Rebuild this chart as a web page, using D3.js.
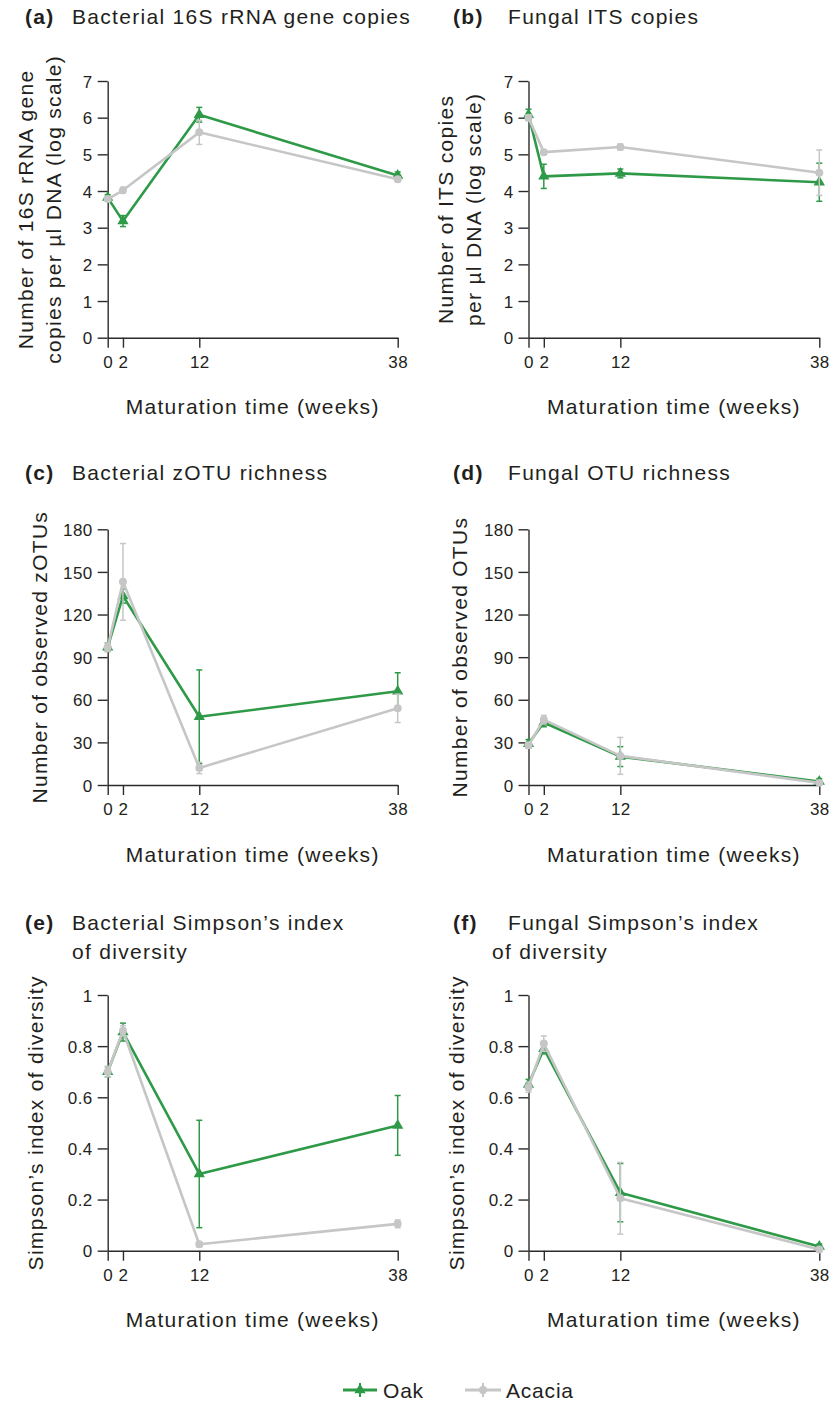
<!DOCTYPE html>
<html><head><meta charset="utf-8">
<script src="https://cdn.jsdelivr.net/npm/d3@7"></script>
<style>
html,body{margin:0;padding:0;background:#fff;}
text{font-family:"Liberation Sans",Arial,sans-serif;fill:#231f20;}
</style></head>
<body>
<svg id="c" width="832" height="1401"></svg>
<script>
const weeks = [0, 2, 12, 38];
const xTickLabels = ["0", "2", "12", "38"];
const seriesNames = ["Oak", "Acacia"];

const bact16S_oak = [3.82, 3.18, 6.08, 4.42];
const bact16S_oak_err = [0.08, 0.15, 0.2, 0.1];
const bact16S_acacia = [3.78, 4.02, 5.6, 4.32];
const bact16S_acacia_err = [0.06, 0.08, 0.33, 0.06];

const its_oak = [6.08, 4.4, 4.48, 4.24];
const its_oak_err = [0.15, 0.33, 0.12, 0.52];
const its_acacia = [6.0, 5.06, 5.2, 4.5];
const its_acacia_err = [0.08, 0.06, 0.08, 0.62];

const zotu_oak = [97, 133, 48, 66];
const zotu_oak_err = [3, 5, 33, 13];
const zotu_acacia = [97, 143, 12, 54];
const zotu_acacia_err = [3, 27, 4, 10];

const otu_oak = [29, 44, 20, 2.5];
const otu_oak_err = [3, 3, 7, 2];
const otu_acacia = [28, 46, 20.5, 1.5];
const otu_acacia_err = [2, 3, 13, 1];

const simpB_oak = [0.70, 0.855, 0.30, 0.49];
const simpB_oak_err = [0.02, 0.035, 0.21, 0.117];
const simpB_acacia = [0.70, 0.86, 0.025, 0.105];
const simpB_acacia_err = [0.02, 0.02, 0.01, 0.015];

const simpF_oak = [0.65, 0.79, 0.227, 0.016];
const simpF_oak_err = [0.02, 0.02, 0.114, 0.01];
const simpF_acacia = [0.64, 0.81, 0.205, 0.005];
const simpF_acacia_err = [0.02, 0.03, 0.14, 0.005];

const ticks7 = [0,1,2,3,4,5,6,7];
const ticks180 = [0,30,60,90,120,150,180];
const ticks1 = [0,0.2,0.4,0.6,0.8,1];
const ticks1Labels = ["0","0.2","0.4","0.6","0.8","1"];

const GREEN = "#2e9a47", GRAY = "#c6c6c6", AXIS = "#2b2b2b";
const svg = d3.select("#c");

const panels = [
  {letter:"(a)", title:["Bacterial 16S rRNA gene copies"], ylab:["Number of 16S rRNA gene","copies per µl DNA (log scale)"],
   oak:bact16S_oak, oakE:bact16S_oak_err, ac:bact16S_acacia, acE:bact16S_acacia_err, max:7, ticks:ticks7, tl:null,
   col:0, row:0},
  {letter:"(b)", title:["Fungal ITS copies"], ylab:["Number of ITS copies","per µl DNA (log scale)"],
   oak:its_oak, oakE:its_oak_err, ac:its_acacia, acE:its_acacia_err, max:7, ticks:ticks7, tl:null,
   col:1, row:0},
  {letter:"(c)", title:["Bacterial zOTU richness"], ylab:["Number of observed zOTUs"],
   oak:zotu_oak, oakE:zotu_oak_err, ac:zotu_acacia, acE:zotu_acacia_err, max:180, ticks:ticks180, tl:null,
   col:0, row:1},
  {letter:"(d)", title:["Fungal OTU richness"], ylab:["Number of observed OTUs"],
   oak:otu_oak, oakE:otu_oak_err, ac:otu_acacia, acE:otu_acacia_err, max:180, ticks:ticks180, tl:null,
   col:1, row:1},
  {letter:"(e)", title:["Bacterial Simpson\u2019s index","of diversity"], ylab:["Simpson\u2019s index of diversity"],
   oak:simpB_oak, oakE:simpB_oak_err, ac:simpB_acacia, acE:simpB_acacia_err, max:1, ticks:ticks1, tl:ticks1Labels,
   col:0, row:2},
  {letter:"(f)", title:["Fungal Simpson\u2019s index","of diversity"], ylab:["Simpson\u2019s index of diversity"],
   oak:simpF_oak, oakE:simpF_oak_err, ac:simpF_acacia, acE:simpF_acacia_err, max:1, ticks:ticks1, tl:ticks1Labels,
   col:1, row:2}
];

// layout geometry
const colX = [[107.7, 397.7],[528.5, 819.3]];
const rowY = [[81, 337.7],[529.3, 785],[995, 1250.7]];
const titleY = [24, 480, 930];
const letterX = [[25, 72, 72],[453, 508, 492]];
const ylabX = [[33, 61],[453, 481]];
const ylab1X = [[47],[467],[43],[464]];
const xlabY = [414, 862, 1327];

const FS = 21, LS = 1.3;

panels.forEach((p,i) => {
  const [x0,x1] = colX[p.col];
  const [yt,yb] = rowY[p.row];
  const x = d3.scaleLinear().domain([0,38]).range([x0,x1]);
  const y = d3.scaleLinear().domain([0,p.max]).range([yb,yt]);
  const g = svg.append("g");

  // axes
  const yAxis = d3.axisLeft(y).tickValues(p.ticks).tickSizeInner(10).tickSizeOuter(0).tickPadding(5)
     .tickFormat((d,k)=> p.tl ? p.tl[k] : d3.format("d")(d));
  const ga = g.append("g").attr("transform",`translate(${x0},0)`).call(yAxis);
  const xAxis = d3.axisBottom(x).tickValues(weeks).tickSizeInner(10).tickSizeOuter(0).tickPadding(8)
     .tickFormat((d,k)=>xTickLabels[k]);
  const gx = g.append("g").attr("transform",`translate(0,${yb})`).call(xAxis);
  [ga,gx].forEach(a=>{
    a.select(".domain").attr("stroke",AXIS).attr("stroke-width",1.4);
    a.selectAll(".tick line").attr("stroke",AXIS).attr("stroke-width",1.4);
    a.selectAll(".tick text").attr("font-size",17).attr("fill","#231f20")
      .style("font-family","'Liberation Sans',Arial,sans-serif").style("letter-spacing","0.4px");
  });
  ga.selectAll(".tick text").attr("dy","0.36em");
  gx.selectAll(".tick text").attr("dy","0.71em");

  // titles
  const t = g.append("text").attr("x", letterX[p.col][0]).attr("y", titleY[p.row])
    .attr("font-size",FS).style("letter-spacing",LS+"px");
  t.append("tspan").attr("font-weight","bold").text(p.letter);
  g.append("text").attr("x", letterX[p.col][1]).attr("y", titleY[p.row])
    .attr("font-size",FS).style("letter-spacing",LS+"px").text(p.title[0]);
  if (p.title[1]) {
    g.append("text").attr("x", letterX[p.col][2]).attr("y", titleY[p.row]+29)
      .attr("font-size",FS).style("letter-spacing",LS+"px").text(p.title[1]);
  }

  // y label
  const cy = (yt+yb)/2;
  p.ylab.forEach((s,k)=>{
    let bx;
    if (p.ylab.length===2) bx = ylabX[p.col][k];
    else bx = p.row===1 ? (p.col===0?47:467) : (p.col===0?43:464);
    g.append("text").attr("transform",`translate(${bx},${cy}) rotate(-90)`)
      .attr("text-anchor","middle").attr("font-size",FS).style("letter-spacing",LS+"px").text(s);
  });

  // x label
  g.append("text").attr("x",(x0+x1)/2 + 0).attr("y",xlabY[p.row]).attr("text-anchor","middle")
    .attr("font-size",FS).style("letter-spacing",LS+"px").text("Maturation time (weeks)");

  // series
  const series = [
    {vals:p.oak, err:p.oakE, color:GREEN, shape:"tri"},
    {vals:p.ac, err:p.acE, color:GRAY, shape:"circ"}
  ];
  series.forEach(s=>{
    const sg = g.append("g");
    const pts = weeks.map((w,k)=>({w, v:s.vals[k], e:s.err[k]}));
    // error bars
    pts.forEach(d=>{
      const ylo = y(Math.max(0,d.v-d.e)), yhi = y(d.v+d.e);
      sg.append("line").attr("x1",x(d.w)).attr("x2",x(d.w)).attr("y1",ylo).attr("y2",yhi)
        .attr("stroke",s.color).attr("stroke-width",1.5);
      [ylo,yhi].forEach(yy=>sg.append("line").attr("x1",x(d.w)-3).attr("x2",x(d.w)+3)
        .attr("y1",yy).attr("y2",yy).attr("stroke",s.color).attr("stroke-width",1.5));
    });
    sg.append("path").datum(pts)
      .attr("d", d3.line().x(d=>x(d.w)).y(d=>y(d.v)))
      .attr("fill","none").attr("stroke",s.color).attr("stroke-width",2.6).attr("stroke-linejoin","round");
    const sym = d3.symbol().type(s.shape==="tri"?d3.symbolTriangle:d3.symbolCircle).size(s.shape==="tri"?55:50);
    sg.selectAll("path.m").data(pts).enter().append("path").attr("class","m")
      .attr("transform",d=>`translate(${x(d.w)},${y(d.v)})`).attr("d",sym).attr("fill",s.color);
  });
});

// legend
const lg = svg.append("g");
const legendItems = [
  {name:seriesNames[0], color:GREEN, shape:"tri", x0:343, x1:377, tx:383},
  {name:seriesNames[1], color:GRAY, shape:"circ", x0:465, x1:501, tx:506}
];
legendItems.forEach(it=>{
  const ly = 1390;
  lg.append("line").attr("x1",it.x0).attr("x2",it.x1).attr("y1",ly).attr("y2",ly)
    .attr("stroke",it.color).attr("stroke-width",3);
  const cx = (it.x0+it.x1)/2;
  lg.append("line").attr("x1",cx).attr("x2",cx).attr("y1",ly-7).attr("y2",ly+7)
    .attr("stroke",it.color).attr("stroke-width",2);
  lg.append("path").attr("transform",`translate(${cx},${ly})`)
    .attr("d",d3.symbol().type(it.shape==="tri"?d3.symbolTriangle:d3.symbolCircle).size(55)).attr("fill",it.color);
  lg.append("text").attr("x",it.tx).attr("y",ly+7.5).attr("font-size",FS).style("letter-spacing","0.8px").text(it.name);
});
</script>
</body></html>
